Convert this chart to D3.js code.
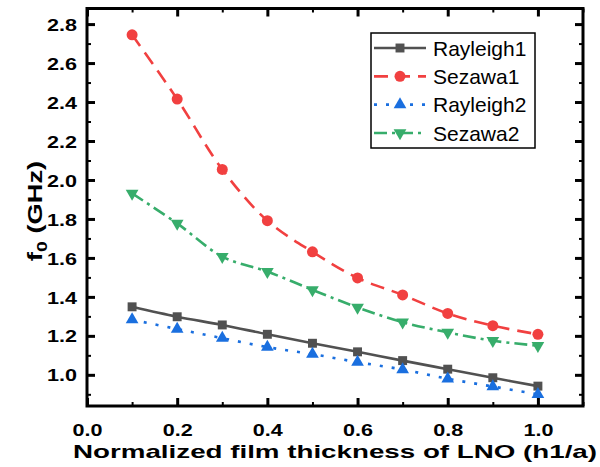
<!DOCTYPE html>
<html>
<head>
<meta charset="utf-8">
<script src="https://cdn.jsdelivr.net/npm/d3@7"></script>
<style>
  body { margin: 0; background: #fff; }
  text { font-family: "Liberation Sans", Arial, sans-serif; }
</style>
</head>
<body>
<div id="chart-container"></div>
<script>
// Data
const thickness = [0.1, 0.2, 0.3, 0.4, 0.5, 0.6, 0.7, 0.8, 0.9, 1.0];
const rayleigh1 = [1.349, 1.298, 1.256, 1.208, 1.162, 1.118, 1.073, 1.029, 0.985, 0.942];
const sezawa1 = [2.745, 2.415, 2.054, 1.791, 1.631, 1.497, 1.410, 1.315, 1.252, 1.208];
const rayleigh2 = [1.283, 1.235, 1.188, 1.142, 1.106, 1.065, 1.027, 0.980, 0.940, 0.900];
const sezawa2 = [1.931, 1.777, 1.607, 1.530, 1.436, 1.346, 1.270, 1.218, 1.175, 1.150];

const seriesNames = ["Rayleigh1", "Sezawa1", "Rayleigh2", "Sezawa2"];
const xTickLabels = ["0.0", "0.2", "0.4", "0.6", "0.8", "1.0"];
const yTickLabels = ["1.0", "1.2", "1.4", "1.6", "1.8", "2.0", "2.2", "2.4", "2.6", "2.8"];

// Plot box
const W = 600, H = 467;
const boxLeft = 87, boxRight = 583, boxTop = 8.5, boxBottom = 406;

const x = d3.scaleLinear().domain([0, 1.1]).range([boxLeft, boxRight]);
const y = d3.scaleLinear().domain([0.84, 2.88]).range([boxBottom, boxTop]);

const svg = d3.select("#chart-container")
  .append("svg")
  .attr("width", W)
  .attr("height", H);

// Series styles (Origin "Bold" palette)
const series = [
  { name: seriesNames[0], values: rayleigh1, color: "#515151", dash: null, symbol: d3.symbolSquare, size: 80, rot: 0 },
  { name: seriesNames[1], values: sezawa1, color: "#F14040", dash: "14,8", symbol: d3.symbolCircle, size: 95, rot: 0 },
  { name: seriesNames[2], values: rayleigh2, color: "#1A6FDF", dash: "3,9", symbol: d3.symbolTriangle, size: 70, rot: 0 },
  { name: seriesNames[3], values: sezawa2, color: "#37AD6B", dash: "13,5,3,5", symbol: d3.symbolTriangle, size: 70, rot: 180 }
];

const line = d3.line()
  .x((d, i) => x(thickness[i]))
  .y(d => y(d))
  .curve(d3.curveCatmullRom.alpha(0.5));

series.forEach(s => {
  svg.append("path")
    .datum(s.values)
    .attr("fill", "none")
    .attr("stroke", s.color)
    .attr("stroke-width", 2.6)
    .attr("stroke-dasharray", s.dash)
    .attr("d", line);

  svg.selectAll(null)
    .data(s.values)
    .enter().append("path")
    .attr("d", d3.symbol().type(s.symbol).size(s.size))
    .attr("fill", s.color)
    .attr("transform", (d, i) => `translate(${x(thickness[i])},${y(d)}) rotate(${s.rot})`);
});

// Axes: ticks point inward, mirrored on top/right
const xMajor = d3.range(0, 1.01, 0.2);
const xMinor = d3.range(0.1, 1.15, 0.2);
const yMajor = d3.range(1.0, 2.81, 0.2);
const yMinor = d3.range(0.9, 2.85, 0.2);

function styleAxis(g) {
  g.select(".domain").remove();
  g.selectAll("line").attr("stroke", "#000");
}

// bottom
svg.append("g")
  .attr("transform", `translate(0,${boxBottom})`)
  .call(d3.axisTop(x).tickValues(xMinor).tickSize(4).tickFormat(""))
  .call(styleAxis)
  .selectAll("line").attr("stroke-width", 2);
const xAxis = svg.append("g")
  .attr("transform", `translate(0,${boxBottom})`)
  .call(d3.axisTop(x).tickValues(xMajor).tickSize(8).tickFormat((d, i) => xTickLabels[i]))
  .call(styleAxis);
xAxis.selectAll("line").attr("stroke-width", 3);
xAxis.selectAll("text")
  .attr("y", 30)
  .attr("dy", 0)
  .attr("fill", "#000")
  .style("font-size", "17px")
  .style("font-weight", "bold")
  .attr("textLength", 30)
  .attr("lengthAdjust", "spacingAndGlyphs");

// top
svg.append("g")
  .attr("transform", `translate(0,${boxTop})`)
  .call(d3.axisBottom(x).tickValues(xMinor).tickSize(4).tickFormat(""))
  .call(styleAxis)
  .selectAll("line").attr("stroke-width", 2);
svg.append("g")
  .attr("transform", `translate(0,${boxTop})`)
  .call(d3.axisBottom(x).tickValues(xMajor).tickSize(8).tickFormat(""))
  .call(styleAxis)
  .selectAll("line").attr("stroke-width", 3);

// left
svg.append("g")
  .attr("transform", `translate(${boxLeft},0)`)
  .call(d3.axisRight(y).tickValues(yMinor).tickSize(4).tickFormat(""))
  .call(styleAxis)
  .selectAll("line").attr("stroke-width", 2);
const yAxis = svg.append("g")
  .attr("transform", `translate(${boxLeft},0)`)
  .call(d3.axisRight(y).tickValues(yMajor).tickSize(8).tickFormat((d, i) => yTickLabels[i]))
  .call(styleAxis);
yAxis.selectAll("line").attr("stroke-width", 3);
yAxis.selectAll("text")
  .attr("x", -10)
  .attr("dy", "0.36em")
  .attr("text-anchor", "end")
  .attr("fill", "#000")
  .style("font-size", "17px")
  .style("font-weight", "bold")
  .attr("textLength", 30)
  .attr("lengthAdjust", "spacingAndGlyphs");

// right
svg.append("g")
  .attr("transform", `translate(${boxRight},0)`)
  .call(d3.axisLeft(y).tickValues(yMinor).tickSize(4).tickFormat(""))
  .call(styleAxis)
  .selectAll("line").attr("stroke-width", 2);
svg.append("g")
  .attr("transform", `translate(${boxRight},0)`)
  .call(d3.axisLeft(y).tickValues(yMajor).tickSize(8).tickFormat(""))
  .call(styleAxis)
  .selectAll("line").attr("stroke-width", 3);

// Frame
svg.append("rect")
  .attr("x", boxLeft)
  .attr("y", boxTop)
  .attr("width", boxRight - boxLeft)
  .attr("height", boxBottom - boxTop)
  .attr("fill", "none")
  .attr("stroke", "#000")
  .attr("stroke-width", 3);

// Axis titles
svg.append("text")
  .attr("x", 73)
  .attr("y", 458)
  .style("font-size", "19px")
  .style("font-weight", "bold")
  .attr("textLength", 524)
  .attr("lengthAdjust", "spacingAndGlyphs")
  .text("Normalized film thickness of LNO (h1/a)");

// y title drawn rotated, stretched a bit along its length like the original
const yTitle = svg.append("text")
  .attr("transform", "translate(42,211) rotate(-90) scale(1.3,1)")
  .attr("text-anchor", "middle")
  .style("font-size", "21px")
  .style("font-weight", "bold");
yTitle.append("tspan").text("f");
yTitle.append("tspan").attr("dy", 5).style("font-size", "15px").text("0");
yTitle.append("tspan").attr("dy", -5).text(" (GHz)");

// Legend
const legend = svg.append("g");
legend.append("rect")
  .attr("x", 371)
  .attr("y", 33)
  .attr("width", 164)
  .attr("height", 115)
  .attr("fill", "#fff")
  .attr("stroke", "#000")
  .attr("stroke-width", 1.5);

const rowY = d3.scalePoint().domain(seriesNames).range([48, 133]);

series.forEach(s => {
  const ly = rowY(s.name);
  legend.append("line")
    .attr("x1", 374).attr("x2", 426)
    .attr("y1", ly).attr("y2", ly)
    .attr("stroke", s.color)
    .attr("stroke-width", 2.6)
    .attr("stroke-dasharray", s.dash);
  legend.append("path")
    .attr("d", d3.symbol().type(s.symbol).size(s.size))
    .attr("fill", s.color)
    .attr("transform", `translate(400,${ly}) rotate(${s.rot})`);
  legend.append("text")
    .attr("x", 433)
    .attr("y", ly + 7.5)
    .style("font-size", "21px")
    .text(s.name);
});
</script>
</body>
</html>
